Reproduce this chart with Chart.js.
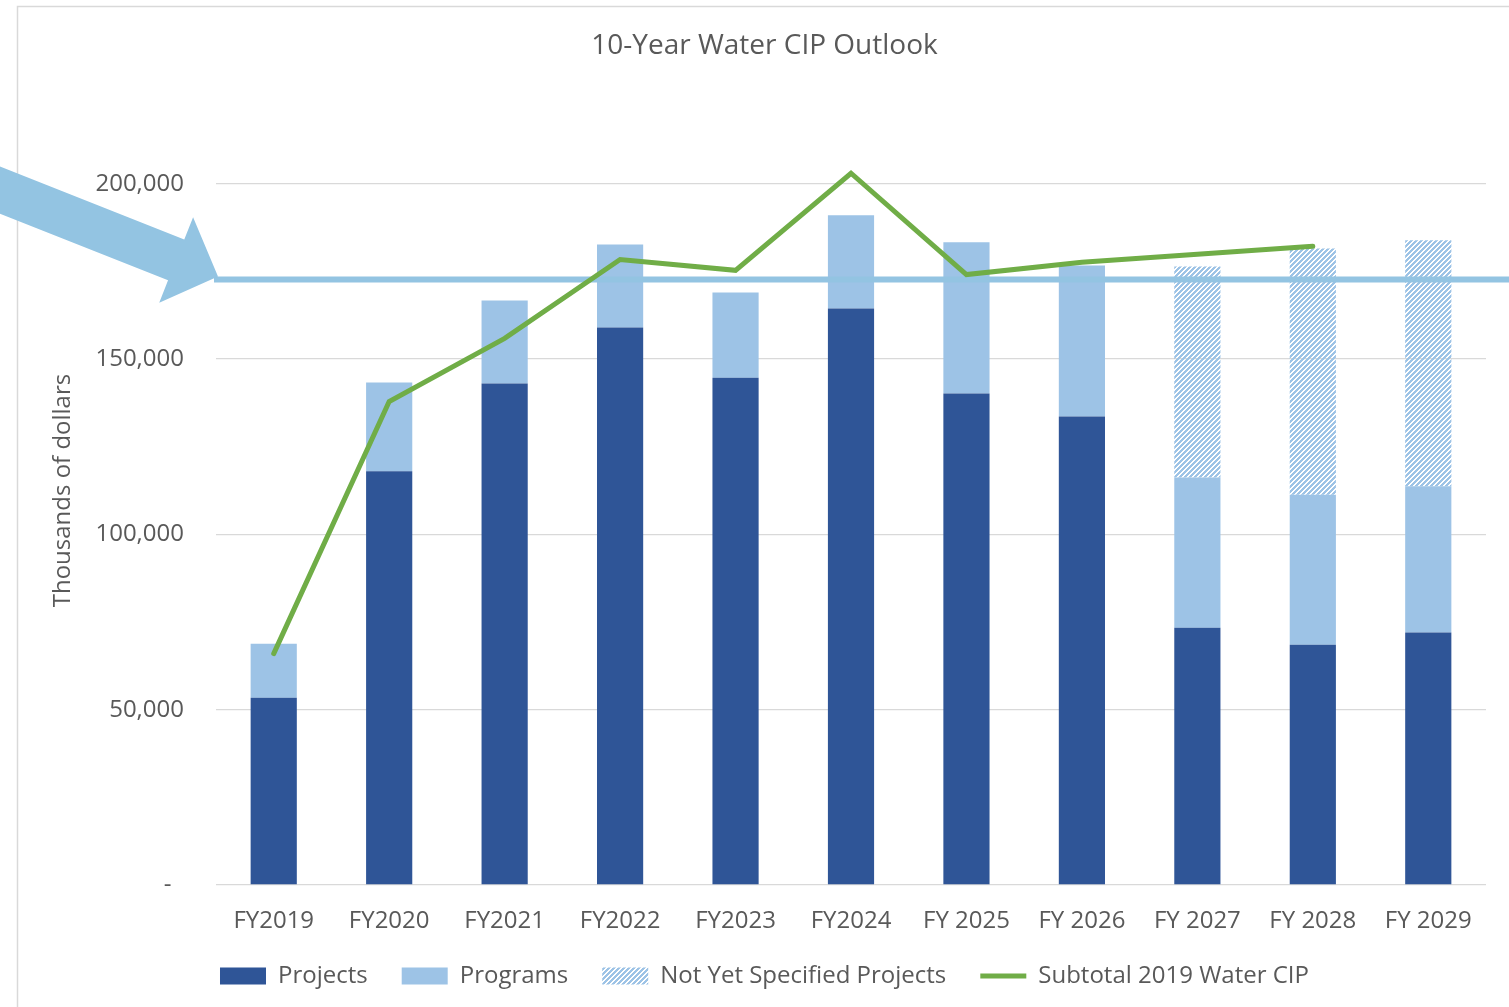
<!DOCTYPE html>
<html>
<head>
<meta charset="utf-8">
<script src="https://cdn.jsdelivr.net/npm/chart.js@4.4.1/dist/chart.umd.min.js"></script>
<style>
  html, body { margin: 0; padding: 0; background: #ffffff; }
  #wrap { position: relative; width: 1509px; height: 1007px; }
</style>
</head>
<body>
<div id="wrap"><canvas id="c"></canvas></div>
<script>
// ---- Data (thousands of dollars) ----
const categories = ['FY2019','FY2020','FY2021','FY2022','FY2023','FY2024','FY 2025','FY 2026','FY 2027','FY 2028','FY 2029'];
const projects   = [53400, 118000, 143000, 159000, 144700, 164400, 140200, 133600, 73400, 68500, 72000];
const programs   = [15400, 25300, 23700, 23700, 24300, 26600, 43100, 43100, 42800, 42800, 41700];
const notYetSpecified = [null, null, null, null, null, null, null, null, 60200, 70200, 70200];
const subtotal2019 = [66000, 137900, 155900, 178400, 175300, 203000, 174100, 177600, 179900, 182200, null];
const referenceLevel = 172700;
const yTickValues = [0, 50000, 100000, 150000, 200000];
const chartTitle = '10-Year Water CIP Outlook';
const yTitle = 'Thousands of dollars';
const seriesNames = ['Projects', 'Programs', 'Not Yet Specified Projects', 'Subtotal 2019 Water CIP'];

// ---- Styles ----
const C_PROJECTS = '#2F5597';
const C_PROGRAMS = '#9DC3E6';
const C_LINE = '#70AD47';
const C_REF = '#93C4E2';
const C_TEXT = '#595959';
const C_GRID = '#D9D9D9';
const FONT = "'Open Sans', 'Liberation Sans', sans-serif";

function makeHatch() {
  const s = 5;
  const pc = document.createElement('canvas');
  pc.width = s; pc.height = s;
  const p = pc.getContext('2d');
  p.fillStyle = C_PROGRAMS;
  for (let x = 0; x < s; x++) {
    for (let y = 0; y < s; y++) {
      if ((x + y) % s < 3) p.fillRect(x, y, 1, 1);
    }
  }
  return document.getElementById('c').getContext('2d').createPattern(pc, 'repeat');
}
const hatch = makeHatch();

const overlayPlugin = {
  id: 'overlay',
  beforeDraw(chart) {
    const ctx = chart.ctx;
    ctx.save();
    ctx.strokeStyle = C_GRID;
    ctx.lineWidth = 1.5;
    ctx.beginPath();
    ctx.moveTo(17.5, 1007);
    ctx.lineTo(17.5, 6.5);
    ctx.lineTo(1509, 6.5);
    ctx.stroke();
    ctx.restore();
  },
  beforeDatasetDraw(chart, args) {
    if (args.index !== 3) return;
    const ctx = chart.ctx;
    const y = chart.scales.y.getPixelForValue(referenceLevel);
    ctx.save();
    ctx.strokeStyle = C_REF;
    ctx.lineWidth = 6;
    ctx.beginPath();
    ctx.moveTo(chart.chartArea.left - 2, y);
    ctx.lineTo(chart.width, y);
    ctx.stroke();
    ctx.restore();
  },
  afterDraw(chart) {
    const ctx = chart.ctx;
    const tipX = chart.chartArea.left + 2;
    const tipY = chart.scales.y.getPixelForValue(referenceLevel) - 3;
    const ang = 21.6 * Math.PI / 180;
    const len = tipX / Math.cos(ang) + 10;
    const headLen = 45, headHalf = 46, shaftHalf = 22;
    ctx.save();
    ctx.translate(tipX, tipY);
    ctx.rotate(ang);
    ctx.fillStyle = C_REF;
    ctx.beginPath();
    ctx.moveTo(0, 0);
    ctx.lineTo(-headLen, -headHalf);
    ctx.lineTo(-headLen, -shaftHalf);
    ctx.lineTo(-len, -shaftHalf);
    ctx.lineTo(-len, shaftHalf);
    ctx.lineTo(-headLen, shaftHalf);
    ctx.lineTo(-headLen, headHalf);
    ctx.closePath();
    ctx.fill();
    ctx.restore();
  }
};

new Chart(document.getElementById('c'), {
  type: 'bar',
  data: {
    labels: categories,
    datasets: [
      { label: seriesNames[0], data: projects, backgroundColor: C_PROJECTS, stack: 'cip', order: 1 },
      { label: seriesNames[1], data: programs, backgroundColor: C_PROGRAMS, stack: 'cip', order: 1 },
      { label: seriesNames[2], data: notYetSpecified, backgroundColor: hatch, stack: 'cip', order: 1 },
      { label: seriesNames[3], data: subtotal2019, type: 'line', stack: 'line', order: 0,
        borderColor: C_LINE, borderWidth: 5, pointRadius: 0, tension: 0, fill: false,
        borderCapStyle: 'round', borderJoinStyle: 'miter' }
    ]
  },
  options: {
    responsive: true,
    maintainAspectRatio: false,
    animation: false,
    devicePixelRatio: 1,
    categoryPercentage: 1.0,
    barPercentage: 0.4,
    layout: { padding: { left: 20, right: 0, top: 0, bottom: 9 } },
    plugins: {
      title: {
        display: true, text: chartTitle, color: C_TEXT,
        font: { family: FONT, size: 28, weight: 'normal' },
        padding: { top: 29, bottom: 33.5 }
      },
      legend: {
        position: 'bottom',
        labels: {
          color: C_TEXT,
          font: { family: FONT, size: 24 },
          usePointStyle: true,
          pointStyleWidth: 46,
          boxHeight: 17,
          padding: 34,
          generateLabels(chart) {
            return chart.data.datasets.map((ds, i) => ({
              text: ds.label,
              fillStyle: i === 3 ? C_LINE : ds.backgroundColor,
              strokeStyle: i === 3 ? C_LINE : 'rgba(0,0,0,0)',
              lineWidth: i === 3 ? 5 : 0,
              pointStyle: i === 3 ? 'line' : 'rect',
              fontColor: C_TEXT,
              hidden: false,
              datasetIndex: i
            }));
          }
        }
      },
      tooltip: { enabled: false }
    },
    scales: {
      x: {
        stacked: true,
        grid: { display: false, drawTicks: false },
        border: { display: false },
        ticks: { color: C_TEXT, font: { family: FONT, size: 24 }, padding: 22, maxRotation: 0 },
        afterFit(scale) { scale.height = 45; }
      },
      y: {
        stacked: true,
        min: 0,
        max: 225000,
        grid: { color: C_GRID, lineWidth: 1.3, drawTicks: false },
        border: { display: false },
        afterBuildTicks(scale) { scale.ticks = yTickValues.map(v => ({ value: v })); },
        afterFit(scale) { scale.width = 196; },
        ticks: {
          color: C_TEXT, font: { family: FONT, size: 24 }, padding: 32,
          callback: (v) => v === 0 ? '-  ' : v.toLocaleString('en-US')
        },
        title: {
          display: true, text: yTitle, color: C_TEXT,
          font: { family: FONT, size: 24 },
          padding: { top: 29, bottom: 0 }
        }
      },
      yRightSpace: {
        type: 'linear',
        position: 'right',
        display: true,
        grid: { display: false, drawTicks: false },
        border: { display: false },
        ticks: { display: false },
        afterFit(scale) { scale.width = 23; }
      }
    }
  },
  plugins: [overlayPlugin]
});
</script>
</body>
</html>
